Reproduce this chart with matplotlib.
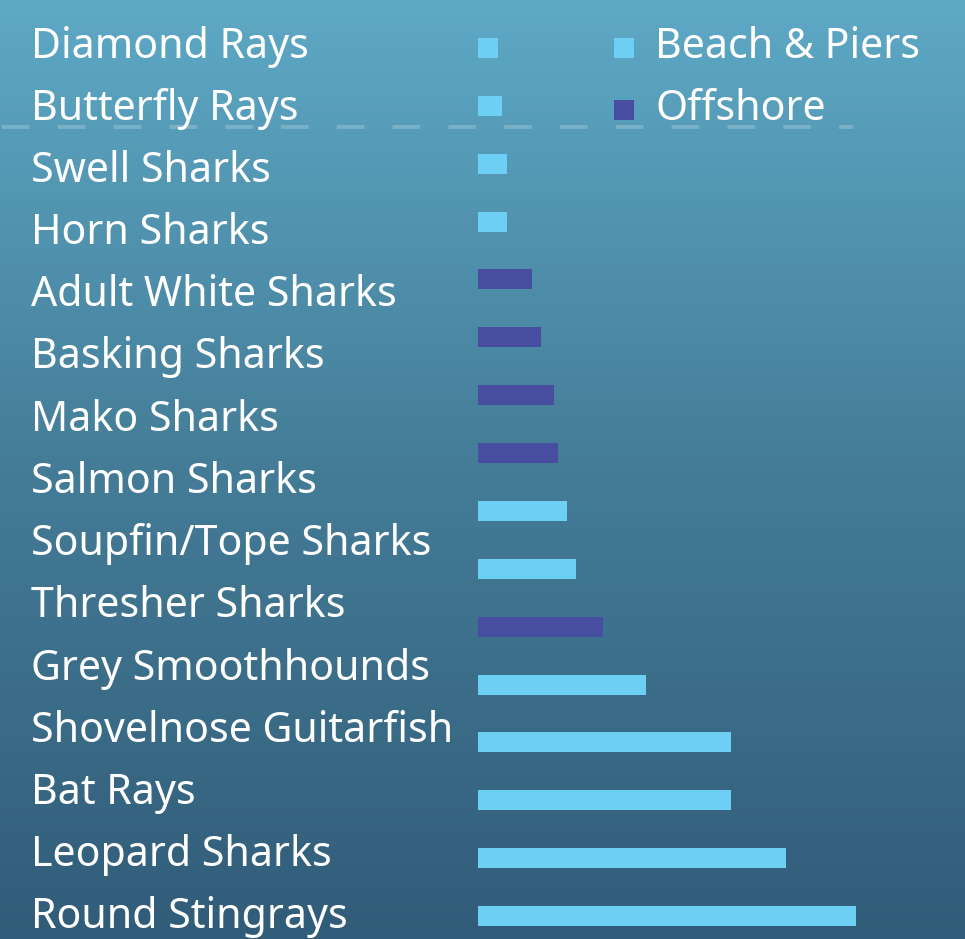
import numpy as np
import matplotlib
matplotlib.use("Agg")
import matplotlib.pyplot as plt
from matplotlib.colors import LinearSegmentedColormap

# row labels (top to bottom)
labels = ["Diamond Rays", "Butterfly Rays", "Swell Sharks", "Horn Sharks",
          "Adult White Sharks", "Basking Sharks", "Mako Sharks", "Salmon Sharks",
          "Soupfin/Tope Sharks", "Thresher Sharks", "Grey Smoothhounds",
          "Shovelnose Guitarfish", "Bat Rays", "Leopard Sharks", "Round Stingrays"]

# bars (top to bottom)
bar_values = [20, 24, 29, 29, 54, 63, 76, 80, 89, 98, 125, 168, 253, 253, 308, 378]
bar_groups = ["Beach & Piers", "Beach & Piers", "Beach & Piers", "Beach & Piers",
              "Offshore", "Offshore", "Offshore", "Offshore",
              "Beach & Piers", "Beach & Piers", "Offshore", "Beach & Piers",
              "Beach & Piers", "Beach & Piers", "Beach & Piers", "Beach & Piers"]

legend_names = ["Beach & Piers", "Offshore"]
colors = {"Beach & Piers": "#6dcff3", "Offshore": "#474ea0"}

W, H = 965, 939
plt.rcParams['font.family'] = ['Noto Sans', 'DejaVu Sans']
FS = 29.6

fig = plt.figure(figsize=(W / 100, H / 100), dpi=100)

# gradient background
bg = fig.add_axes([0, 0, 1, 1])
cmap = LinearSegmentedColormap.from_list("bg", ["#5ea9c6", "#447c97", "#315c79"])
grad = np.linspace(0, 1, 256).reshape(-1, 1)
bg.imshow(grad, cmap=cmap, aspect="auto", extent=[0, 1, 0, 1], origin="upper")
bg.axis("off")

# bars axes
x0 = 478
ax = fig.add_axes([x0 / W, 0, (W - x0) / W, 1])
step = 57.87
first = 48
ypos = np.arange(len(bar_values))
ax.barh(ypos, bar_values, height=20 / step,
        color=[colors[g] for g in bar_groups])
ax.set_xlim(0, W - x0)
ax.set_ylim((H - first) / step, -first / step)
ax.axis("off")
ax.patch.set_alpha(0)

# labels axes
lab = fig.add_axes([0, 0, 1, 1])
lstep = 62.2
base0 = 57.5
lab.set_xlim(0, W)
lab.set_ylim((H - base0) / lstep, -base0 / lstep)
lab.axis("off")
lab.patch.set_alpha(0)
for i, name in enumerate(labels):
    lab.text(31, i, name, color="white", fontsize=FS, va="baseline", ha="left")

# legend
for i, name in enumerate(legend_names):
    lab.scatter([624], [i - 10 / lstep], marker="s", s=(20 * 0.72) ** 2,
                color=colors[name], linewidths=0)
    lab.text(655, i, name, color="white", fontsize=FS, va="baseline", ha="left")

# dashed separator
lab.plot([2, 853], [(127 - base0) / lstep] * 2, color="white", alpha=0.2,
         lw=4 * 0.72, linestyle=(0, (6.9, 7.05)), solid_capstyle="butt",
         dash_capstyle="butt")

fig.savefig("out.png", dpi=100)
